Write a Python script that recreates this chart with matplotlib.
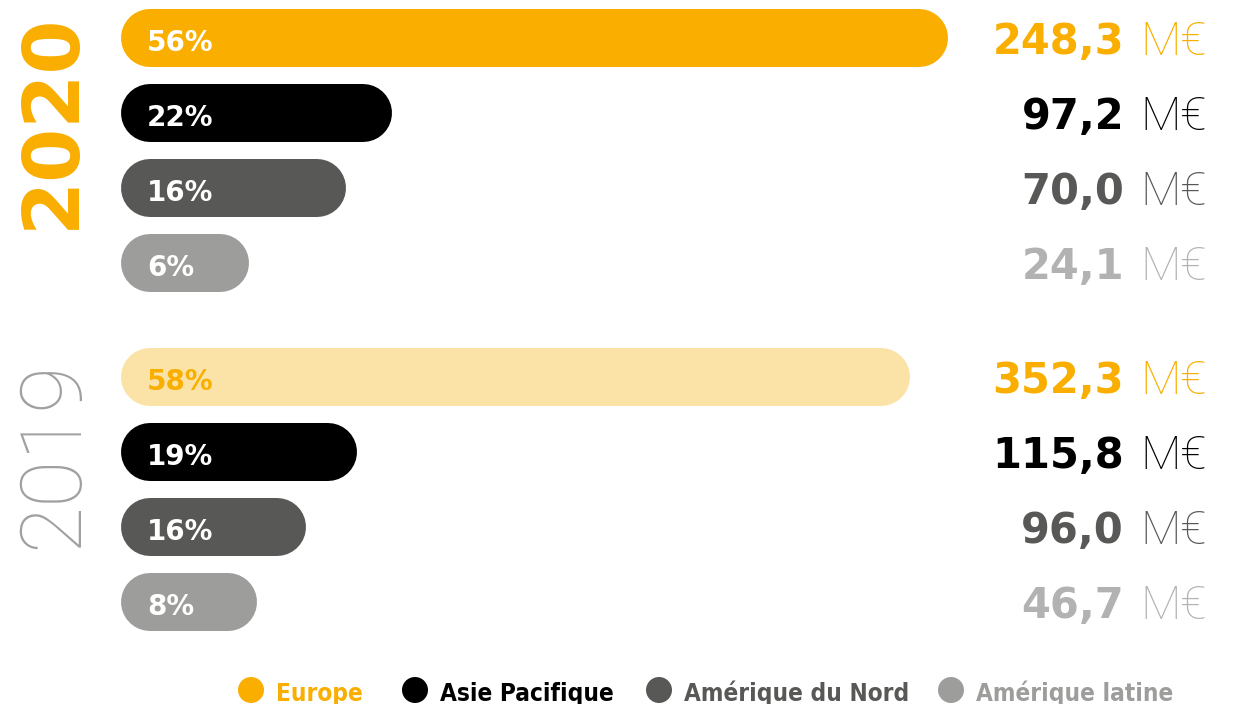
import matplotlib.pyplot as plt
from matplotlib.patches import Circle

# data
regions = ['Europe', 'Asie Pacifique', 'Amérique du Nord', 'Amérique latine']
years = ['2020', '2019']
pct_2020 = ['56%', '22%', '16%', '6%']
pct_2019 = ['58%', '19%', '16%', '8%']
amount_2020 = [248.3, 97.2, 70.0, 24.1]
amount_2019 = [352.3, 115.8, 96.0, 46.7]
# bar lengths as drawn in the infographic (not proportional to the %)
bar_len_2020 = [827, 271, 225, 128]
bar_len_2019 = [789, 236, 185, 136]

bar_colors = ['#F9AE00', '#000000', '#585856', '#9D9D9C']
value_colors = ['#F9AE00', '#000000', '#585856', '#B2B2B2']
europe_2019_bar = '#FBE3A8'

W, H = 1239, 704
fig = plt.figure(figsize=(W / 100, H / 100), dpi=100)
ax = fig.add_axes([0, 0, 1, 1])
ax.set_xlim(0, W)
ax.set_ylim(H, 0)
ax.axis('off')

x0 = 121
bar_h = 58
row_step = 75
group_top = [38, 377]
num_right = 1124
unit_left = 1140
lw = bar_h * 72 / 100  # bar thickness in points


def fmt(v):
    return f"{v:.1f}".replace('.', ',')


groups = [(pct_2020, amount_2020, bar_len_2020), (pct_2019, amount_2019, bar_len_2019)]
for g, (pcts, amounts, lens) in enumerate(groups):
    for i in range(4):
        yc = group_top[g] + i * row_step
        fc = bar_colors[i]
        tc = 'white'
        if g == 1 and i == 0:
            fc = europe_2019_bar
            tc = '#F9AE00'
        r = bar_h / 2
        ax.plot([x0 + r, x0 + lens[i] - r], [yc, yc], color=fc, lw=lw,
                solid_capstyle='round')
        ax.text(x0 + 26, yc + 5, pcts[i], color=tc, fontsize=20, fontweight='bold',
                va='center', ha='left', family='DejaVu Sans')
        # amount: bold number + light unit
        ax.text(num_right, yc + 4, fmt(amounts[i]), color=value_colors[i], fontsize=30,
                fontweight='bold', family='DejaVu Sans', ha='right', va='center')
        ax.text(unit_left, yc + 4, 'M€', color=value_colors[i], fontsize=34,
                fontweight='light', family='Roboto', ha='left', va='center')

ax.text(52, 121, years[0], rotation=90, color='#F9AE00', fontsize=56, fontweight='bold',
        family='DejaVu Sans', ha='center', va='center')
ax.text(54, 455, years[1], rotation=90, color='#A0A0A0', fontsize=62, fontweight='light',
        family='Roboto', ha='center', va='center')

# legend
leg_x = [251, 415, 659, 951]
for i, name in enumerate(regions):
    ax.add_patch(Circle((leg_x[i], 690), 13, fc=bar_colors[i], ec='none'))
    ax.text(leg_x[i] + 25, 701, name, color=bar_colors[i], fontsize=17.5, fontweight='bold',
            family='DejaVu Sans', fontstretch='condensed', ha='left', va='baseline')

fig.savefig('out.png', dpi=100)
